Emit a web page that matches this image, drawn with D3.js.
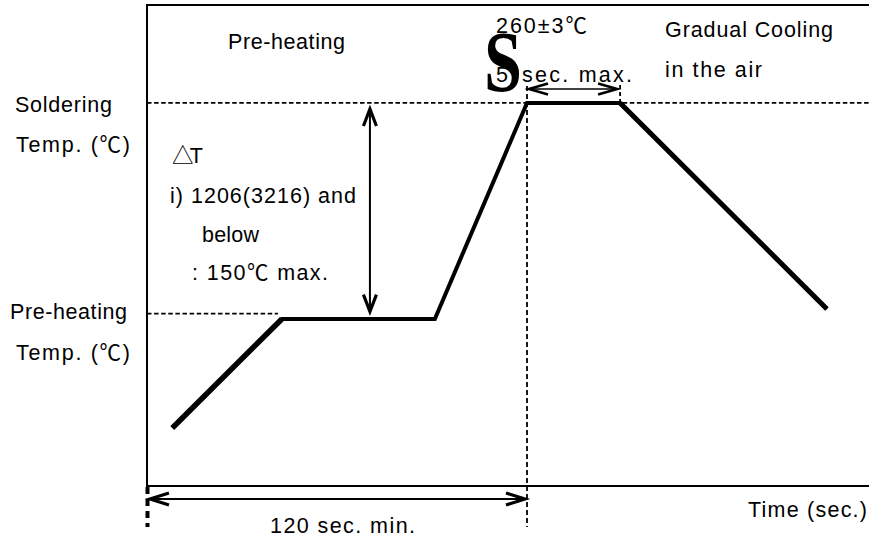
<!DOCTYPE html>
<html>
<head>
<meta charset="utf-8">
<script src="https://cdn.jsdelivr.net/npm/d3@7/dist/d3.min.js"></script>
<style>
  html, body { margin: 0; padding: 0; background: #fff; }
  svg { display: block; }
  text { font-family: "Liberation Sans", Arial, "Noto Sans CJK JP", sans-serif; fill: #000; }
</style>
</head>
<body>
<svg id="chart" width="869" height="539"></svg>
<script>
// ---------------- DATA ----------------
const timeDomain = [0, 228];          // seconds (schematic)
const tempDomain = [0, 326.5];        // °C (schematic)
const profileTime = [8, 42.6, 90.9, 120, 149.4, 214.7];
const profileTemp = [39.4, 113.4, 113.4, 260, 260, 120.2];
const solderingTemp = 260;
const preheatTemp = 117;
const minPreheatTime = 120;           // "120 sec. min."
const peakEndTime = 149.4;            // end of soldering hold
const deltaTTime = 70.4;              // where the ΔT arrow sits

const labelTexts = [
  "Pre-heating", "260±3℃", "sec.  max.", "Gradual  Cooling", "in  the  air",
  "Soldering", "Temp.  (℃)", "Pre-heating", "Temp.  (℃)",
  "△T", "i)  1206(3216)  and", "below", ":  150℃  max.",
  "120  sec.  min.", "Time  (sec.)"
];

// ---------------- LAYOUT (pixels) ----------------
const labelLayout = [
  [228, 49, 117], [496, 33, 91], [522, 82, 110], [665, 37, 168], [665, 77, 97],
  [15, 112, 97], [16, 152, 114], [10, 319, 117], [16, 360, 114],
  [172, 163, 31], [170, 203, 186], [202, 242, 57], [192, 280, 136],
  [270, 533, 145], [748, 517, 119]
];

const svg = d3.select("#chart");
const W = 869, H = 539;
const x = d3.scaleLinear().domain(timeDomain).range([147, W]);
const y = d3.scaleLinear().domain(tempDomain).range([486, 5]);

// frame: left, top, bottom
svg.append("line").attr("x1", x(0)).attr("x2", x(0)).attr("y1", y(tempDomain[1])).attr("y2", y(0))
  .attr("stroke", "#000").attr("stroke-width", 2);
svg.append("line").attr("x1", x(0) - 1).attr("x2", x(timeDomain[1])).attr("y1", y(tempDomain[1])).attr("y2", y(tempDomain[1]))
  .attr("stroke", "#000").attr("stroke-width", 2);
svg.append("line").attr("x1", x(0) - 1).attr("x2", x(timeDomain[1])).attr("y1", y(0)).attr("y2", y(0))
  .attr("stroke", "#000").attr("stroke-width", 2);

// dashed reference lines
const dash = "4.5,2.6";
svg.append("line").attr("x1", x(0)).attr("x2", x(timeDomain[1])).attr("y1", y(solderingTemp)).attr("y2", y(solderingTemp))
  .attr("stroke", "#000").attr("stroke-width", 1.7).attr("stroke-dasharray", dash);
svg.append("line").attr("x1", x(0)).attr("x2", x(profileTime[1]) - 4).attr("y1", y(preheatTemp)).attr("y2", y(preheatTemp))
  .attr("stroke", "#000").attr("stroke-width", 1.7).attr("stroke-dasharray", dash);
svg.append("line").attr("x1", x(minPreheatTime)).attr("x2", x(minPreheatTime)).attr("y1", y(solderingTemp) - 17).attr("y2", y(0) + 41)
  .attr("stroke", "#000").attr("stroke-width", 1.8).attr("stroke-dasharray", "5,3");
svg.append("line").attr("x1", x(peakEndTime)).attr("x2", x(peakEndTime)).attr("y1", y(solderingTemp) - 18).attr("y2", y(solderingTemp))
  .attr("stroke", "#000").attr("stroke-width", 1.8).attr("stroke-dasharray", "4,3");
// thick dashed below origin
svg.append("line").attr("x1", x(0) + 0.5).attr("x2", x(0) + 0.5).attr("y1", y(0) + 1).attr("y2", y(0) + 41)
  .attr("stroke", "#000").attr("stroke-width", 4).attr("stroke-dasharray", "7,5");

// profile
const pts = profileTime.map((t, i) => [x(t), y(profileTemp[i])]);
svg.append("path").attr("d", d3.line()(pts)).attr("fill", "none").attr("stroke", "#000")
  .attr("stroke-width", 4).attr("stroke-linejoin", "miter");
svg.append("line").attr("x1", pts[0][0]).attr("y1", pts[0][1]).attr("x2", pts[1][0]).attr("y2", pts[1][1])
  .attr("stroke", "#000").attr("stroke-width", 5.5);
svg.append("line").attr("x1", pts[4][0]).attr("y1", pts[4][1]).attr("x2", pts[5][0]).attr("y2", pts[5][1])
  .attr("stroke", "#000").attr("stroke-width", 5);

// arrows
function arrowHead(tx, ty, ang, len, hw, sw) {
  const c = Math.cos(ang), s = Math.sin(ang);
  const p = (a, b) => [tx + a * c - b * s, ty + a * s + b * c];
  const a1 = p(-len, -hw), a2 = p(-len, hw);
  svg.append("path").attr("d", `M${a1[0]},${a1[1]}L${tx},${ty}L${a2[0]},${a2[1]}`)
    .attr("fill", "none").attr("stroke", "#000").attr("stroke-width", sw).attr("stroke-linejoin", "miter");
}
function doubleArrow(x1, y1, x2, y2, w, len, hw, sw) {
  svg.append("line").attr("x1", x1).attr("y1", y1).attr("x2", x2).attr("y2", y2)
    .attr("stroke", "#000").attr("stroke-width", w);
  const ang = Math.atan2(y2 - y1, x2 - x1);
  arrowHead(x2, y2, ang, len, hw, sw);
  arrowHead(x1, y1, ang + Math.PI, len, hw, sw);
}
// ΔT arrow
doubleArrow(x(deltaTTime), y(solderingTemp) + 6, x(deltaTTime), y(preheatTemp) - 2, 2, 17, 6.5, 3.2);
// soldering hold arrow
doubleArrow(x(minPreheatTime) + 2, y(solderingTemp) - 14, x(peakEndTime) - 3, y(solderingTemp) - 14, 1.6, 19, 5.5, 2.6);
// 120 sec arrow
doubleArrow(x(0) + 3, y(0) + 13, x(minPreheatTime) - 2, y(0) + 13, 2, 19, 6, 3.2);

// labels
labelTexts.forEach((t, i) => {
  const [lx, ly, lw] = labelLayout[i];
  svg.append("text").attr("x", lx).attr("y", ly).attr("font-size", 21.5)
    .attr("textLength", lw).attr("lengthAdjust", "spacing").text(t);
});
// the partly hidden small "5" and the big serif "S"
svg.append("text").attr("x", 496).attr("y", 82).attr("font-size", 21.5).text("5");
svg.append("text").attr("x", 484).attr("y", 91).attr("font-size", 86)
  .attr("font-weight", "bold")
  .style("font-family", "'Liberation Serif', 'Times New Roman', serif")
  .attr("textLength", 38).attr("lengthAdjust", "spacingAndGlyphs").text("S");
</script>
</body>
</html>
